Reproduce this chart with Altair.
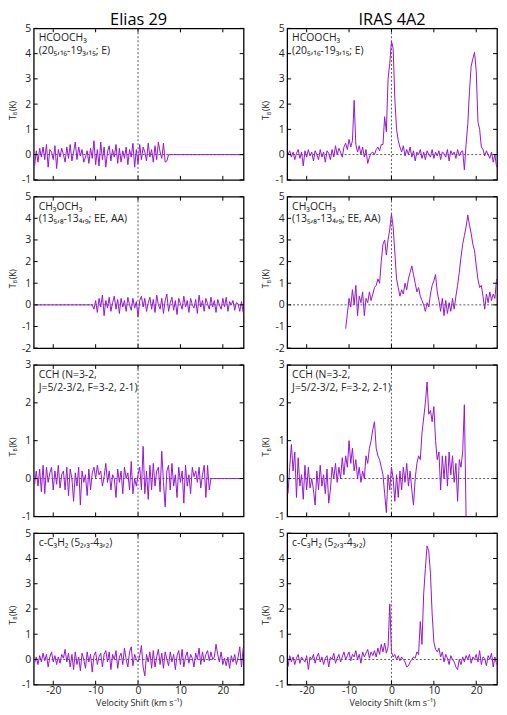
import altair as alt
import pandas as pd

# ---------------- data ----------------
V_START = -24.4   # km/s, first channel
V_STEP = 0.4      # km/s, channel width
N_CHAN = 124

X_TICKS = [-20, -10, 0, 10, 20]
ZERO = [0]

elias_hcooch3 = [
    -0.45, 0.15, -0.30, 0.25, -0.10, 0.30, -0.20, 0.40, -0.50, 0.20,
    0.10, -0.20, 0.35, -0.55, 0.20, -0.10, 0.25, 0.00, -0.30, 0.30,
    -0.15, 0.40, -0.25, 0.10, 0.50, -0.20, 0.30, -0.05, 0.20, -0.30,
    -0.10, 0.15, -0.35, 0.25, -0.15, 0.55, -0.40, 0.20, -0.45, 0.50,
    -0.20, 0.30, -0.50, 0.10, 0.35, -0.25, 0.20, -0.10, 0.40, -0.35,
    0.25, -0.30, 0.15, -0.15, 0.30, -0.40, 0.20, -0.10, 0.45, -0.50,
    0.20, -0.35, 0.40, -0.20, 0.30, 0.10, -0.25, 0.45, -0.10, 0.20,
    -0.30, 0.35, -0.20, 0.50, 0.10, -0.15, 0.45, -0.30, -0.25, 0.00,
    0.00, 0.00, 0.00, 0.00, 0.00, 0.00, 0.00, 0.00, 0.00, 0.00,
    0.00, 0.00, 0.00, 0.00, 0.00, 0.00, 0.00, 0.00, 0.00, 0.00,
    0.00, 0.00, 0.00, 0.00, 0.00, 0.00, 0.00, 0.00, 0.00, 0.00,
    0.00, 0.00, 0.00, 0.00, 0.00, 0.00, 0.00, 0.00, 0.00, 0.00,
    0.00, 0.00, 0.00, 0.00,
]

iras_hcooch3 = [
    0.00, 0.15, -0.10, 0.10, -0.20, 0.05, 0.20, -0.15, 0.10, -0.45,
    0.15, -0.10, 0.20, -0.05, 0.10, -0.25, 0.15, 0.00, -0.20, 0.20,
    -0.10, 0.10, -0.30, 0.15, 0.05, -0.20, 0.20, -0.10, 0.35, 0.00,
    0.25, 0.10, -0.10, 0.30, 0.45, 0.20, 0.60, 0.30, 0.55, 2.15,
    0.40, 0.10, 0.35, 0.00, 0.30, -0.10, 0.20, -0.35, -0.10, 0.05,
    0.10, 0.00, 0.20, 0.30, 0.15, 0.40, 0.40, 1.50, 0.90, 3.00,
    3.60, 4.50, 4.20, 2.20, 1.00, 0.55, 0.30, 0.10, 0.35, -0.05,
    0.20, 0.00, 0.30, -0.10, 0.15, -0.25, 0.10, 0.00, 0.20, -0.15,
    0.10, -0.20, 0.15, 0.00, -0.10, 0.20, -0.15, 0.10, -0.05, 0.15,
    -0.20, 0.10, 0.05, -0.10, 0.20, -0.25, 0.15, 0.00, 0.10, -0.15,
    0.20, -0.05, 0.10, 0.15, -0.60, 0.40, 1.20, 2.50, 3.50, 3.80,
    4.05, 3.30, 1.30, 1.00, 0.30, 0.20, -0.05, 0.15, 0.00, -0.15,
    0.10, -0.30, 0.00, -0.50,
]

elias_ch3och3 = [
    0.00, 0.00, 0.00, 0.00, 0.00, 0.00, 0.00, 0.00, 0.00, 0.00,
    0.00, 0.00, 0.00, 0.00, 0.00, 0.00, 0.00, 0.00, 0.00, 0.00,
    0.00, 0.00, 0.00, 0.00, 0.00, 0.00, 0.00, 0.00, 0.00, 0.00,
    0.00, 0.00, 0.00, 0.00, 0.00, -0.20, 0.20, -0.35, 0.30, -0.10,
    0.45, -0.50, 0.20, -0.15, 0.35, -0.30, 0.10, 0.40, -0.20, 0.25,
    -0.40, 0.30, -0.10, 0.20, -0.30, 0.35, 0.00, -0.25, 0.30, -0.15,
    0.15, -0.55, 0.20, 0.40, -0.10, 0.30, -0.30, 0.10, 0.35, -0.20,
    0.25, -0.35, 0.45, 0.00, -0.20, 0.30, -0.40, 0.20, 0.50, -0.30,
    0.10, 0.35, -0.25, 0.20, -0.45, 0.30, 0.05, -0.20, 0.40, -0.10,
    0.20, -0.35, 0.30, 0.00, -0.15, 0.25, -0.40, 0.45, -0.10, 0.20,
    -0.30, 0.30, 0.05, -0.20, 0.35, -0.10, 0.20, -0.35, 0.25, 0.00,
    -0.20, 0.30, -0.10, 0.35, -0.30, 0.15, 0.00, 0.20, -0.25, 0.10,
    0.05, -0.30, 0.15, -0.35,
]

iras_ch3och3 = [
    None, None, None, None, None, None, None, None, None, None,
    None, None, None, None, None, None, None, None, None, None,
    None, None, None, None, None, None, None, None, None, None,
    None, None, None, None, -1.10, -0.40, 0.30, -0.10, 0.70, 0.00,
    0.90, -0.50, 0.40, 0.10, 0.60, -0.50, 0.30, 0.10, 0.60, 0.20,
    0.50, 0.80, 0.90, 1.20, 1.00, 2.00, 2.80, 3.00, 2.30, 3.00,
    3.50, 4.20, 3.60, 2.40, 1.20, 0.80, 0.40, 0.70, 0.50, 1.00,
    0.70, 1.20, 1.50, 1.80, 1.40, 1.00, 0.60, 0.80, 0.40, 0.20,
    0.00, -0.30, 0.10, -0.10, 0.50, 0.90, 1.10, 1.40, 0.60, 0.20,
    -0.30, 0.30, -0.50, 0.20, -0.40, 0.10, -0.30, 0.30, -0.20, 0.40,
    0.90, 1.50, 2.20, 2.80, 3.20, 3.60, 4.15, 3.70, 3.30, 2.80,
    2.50, 1.80, 1.20, 0.80, 0.90, 0.40, -0.20, 0.50, 0.10, 0.60,
    0.20, 0.50, 0.30, 1.20,
]

elias_cch = [
    -0.15, 0.20, -0.20, 0.25, -0.35, 0.35, -0.40, 0.30, -0.10, 0.15,
    0.30, -0.30, 0.20, -0.15, 0.35, -0.25, 0.10, 0.20, -0.30, 0.30,
    -0.45, 0.25, 0.00, -0.60, 0.15, -0.20, 0.30, -0.70, 0.20, -0.10,
    0.10, -0.45, 0.25, -0.30, 0.15, 0.30, 0.00, 0.35, 0.10, 0.20,
    -0.20, 0.05, 0.40, -0.10, 0.20, -0.30, 0.10, 0.00, -0.50, 0.25,
    -0.10, 0.20, -0.40, 0.30, 0.00, 0.15, -0.30, 0.45, -0.40, 0.00,
    -0.20, 0.10, 0.30, -0.30, 0.85, -0.40, 0.20, -0.55, 0.35, -0.30,
    0.40, -0.20, 0.20, 0.30, -0.35, 0.72, -0.10, -0.75, 0.20, 0.35,
    -0.30, 0.40, -0.20, 0.10, -0.50, 0.30, -0.10, 0.20, -0.65, 0.35,
    -0.20, 0.10, -0.40, 0.30, 0.05, 0.20, -0.10, 0.30, -0.25, 0.10,
    0.35, -0.50, 0.35, -0.30, 0.00, 0.00, 0.00, 0.00, 0.00, 0.00,
    0.00, 0.00, 0.00, 0.00, 0.00, 0.00, 0.00, 0.00, 0.00, 0.00,
    0.00, 0.00, 0.00, 0.00,
]

iras_cch = [
    -0.40, 0.30, 0.90, 0.20, 0.70, -0.50, 0.55, -0.20, 0.10, -0.55,
    0.35, -0.30, 0.30, -0.25, 0.00, -0.30, -0.70, 0.20, -0.30, 0.35,
    -0.20, 0.10, -0.40, 0.25, -0.65, -0.30, 0.30, 0.00, 0.40, -0.10,
    0.30, 0.00, 0.55, 0.10, 0.60, 0.30, 1.00, 0.40, 0.80, 0.20,
    0.50, 0.00, 0.30, -0.10, 0.20, 0.00, 0.60, 0.40, 0.80, 1.00,
    1.30, 1.50, 0.80, 0.60, 0.50, 0.30, 0.10, -0.40, -0.90, 0.10,
    -0.30, 0.30, 0.00, -0.60, 0.10, -0.50, 0.20, -0.30, 0.30, -0.10,
    0.40, -0.20, 0.20, -0.30, -0.70, 0.00, 0.40, 0.60, 0.50, 1.20,
    1.60, 2.00, 2.55, 1.70, 1.80, 1.50, 1.90, 1.00, 0.50, 0.70,
    -0.30, 0.60, 0.00, 0.60, -0.20, 0.70, 0.10, 0.60, -0.10, 0.40,
    -0.60, 0.50, 0.30, 0.70, 1.95, -1.00, None, None, None, None,
    None, None, None, None, None, None, None, None, None, None,
    None, None, None, None,
]

elias_c3h2 = [
    -0.15, 0.10, -0.20, 0.15, -0.10, 0.25, -0.05, 0.20, -0.30, 0.10,
    0.30, -0.10, 0.15, -0.20, 0.10, -0.15, 0.20, 0.05, 0.40, -0.10,
    0.25, -0.30, 0.20, -0.40, 0.30, -0.20, 0.10, -0.45, 0.25, 0.00,
    -0.35, 0.30, -0.10, 0.20, -0.50, 0.15, 0.30, -0.20, 0.10, 0.25,
    -0.30, 0.20, 0.35, -0.10, 0.30, -0.40, 0.20, 0.00, 0.35, -0.35,
    0.10, 0.25, -0.20, 0.45, 0.00, -0.30, 0.30, 0.50, -0.25, 0.20,
    0.00, -0.10, 0.15, 0.55, -0.30, -0.65, 0.20, -0.10, 0.30, -0.35,
    0.35, -0.30, 0.10, 0.40, -0.20, 0.25, -0.35, 0.30, 0.00, -0.25,
    0.30, -0.10, 0.20, -0.40, 0.15, 0.35, -0.20, 0.40, -0.30, 0.10,
    0.30, -0.15, 0.20, 0.05, -0.30, 0.25, 0.00, 0.45, -0.20, 0.30,
    -0.10, 0.20, 0.35, -0.05, 0.30, 0.00, 0.10, 0.60, 0.20, -0.10,
    0.30, -0.20, 0.05, -0.25, 0.10, -0.35, 0.15, -0.10, 0.20, -0.20,
    0.10, 0.50, -0.30, 0.45,
]

iras_c3h2 = [
    -0.30, 0.15, -0.10, 0.10, -0.20, 0.05, 0.20, -0.15, 0.10, 0.00,
    -0.10, 0.15, -0.40, 0.10, 0.00, 0.20, -0.15, 0.10, 0.25, -0.10,
    0.10, -0.20, 0.05, 0.15, -0.30, 0.10, 0.00, 0.25, -0.15, 0.05,
    0.20, -0.10, 0.10, 0.30, 0.00, 0.15, 0.30, -0.05, 0.20, 0.10,
    0.35, 0.00, 0.20, -0.15, 0.30, 0.10, 0.25, 0.40, 0.05, 0.30,
    0.15, 0.35, 0.10, 0.45, 0.20, 0.60, 0.30, 0.65, 0.25, 0.50,
    2.20, 0.30, 0.10, 0.20, 0.00, 0.15, -0.05, 0.10, 0.00, -0.10,
    -0.30, -0.25, -0.10, 0.00, 0.10, 0.05, 0.30, 0.20, 1.50, 0.60,
    2.60, 3.60, 4.50, 4.30, 3.40, 1.80, 0.70, 0.40, 0.30, 0.45,
    0.10, 0.30, -0.10, 0.20, 0.05, -0.20, 0.15, 0.00, -0.10, -0.30,
    -0.40, 0.00, -0.20, 0.10, -0.10, 0.15, 0.00, 0.20, -0.15, 0.10,
    0.00, 0.20, -0.10, 0.35, -0.20, 0.10, 0.05, -0.25, 0.15, 0.00,
    0.25, -0.30, 0.10, -0.20,
]

rows_spec = [
    (elias_hcooch3, iras_hcooch3, [-1, 5], [-1, 0, 1, 2, 3, 4, 5],
     ["HCOOCH₃", "(20₅,₁₆-19₃,₁₅; E)"]),
    (elias_ch3och3, iras_ch3och3, [-2, 5], [-2, -1, 0, 1, 2, 3, 4, 5],
     ["CH₃OCH₃", "(13₅,₈-13₄,₉; EE, AA)"]),
    (elias_cch, iras_cch, [-1, 3], [-1, 0, 1, 2, 3],
     ["CCH (N=3-2,", "J=5/2-3/2, F=3-2, 2-1)"]),
    (elias_c3h2, iras_c3h2, [-1, 5], [-1, 0, 1, 2, 3, 4, 5],
     ["c-C₃H₂ (5₂,₃-4₃,₂)"]),
]
SOURCES = ["Elias 29", "IRAS 4A2"]

# ---------------- style ----------------
W, H = 212, 153
FONT = "Open Sans"
LINE_COLOR = "#9514d6"
X_DOMAIN = [-24.6, 24.9]
TICK_LEN = 4

one = pd.DataFrame({"a": [0]})


def make_panel(values, ydomain, yticks, label, bottom, title=None):
    assert len(values) == N_CHAN, len(values)
    recs = [{"v": round(V_START + V_STEP * i, 3), "t": t}
            for i, t in enumerate(values) if t is not None]
    df = pd.DataFrame(recs)
    xs = alt.Scale(domain=X_DOMAIN, nice=False, zero=False)
    ys = alt.Scale(domain=ydomain, nice=False, zero=False)
    if bottom:
        xaxis = alt.Axis(values=X_TICKS, ticks=False, domain=False, grid=False,
                         labelFontSize=10.5, labelFont=FONT, labelColor="#222",
                         labelPadding=1, labelExpr="datum.value + ''",
                         title="Velocity Shift (km s⁻¹)", titleFont=FONT,
                         titleFontSize=9, titleFontWeight="normal",
                         titleColor="#222", titlePadding=3)
    else:
        xaxis = None
    yaxis = alt.Axis(values=yticks, ticks=False, domain=False, grid=False,
                     labelFontSize=10.5, labelFont=FONT, labelColor="#222",
                     labelPadding=3, labelExpr="datum.value + ''", title=None)

    line = alt.Chart(df).mark_line(color=LINE_COLOR, strokeWidth=1, clip=True).encode(
        x=alt.X("v:Q", scale=xs, axis=xaxis),
        y=alt.Y("t:Q", scale=ys, axis=yaxis),
    )
    zdf = pd.DataFrame({"z": ZERO})
    vrule = alt.Chart(zdf).mark_rule(color="#444", strokeDash=[2, 2], strokeWidth=0.9).encode(
        x=alt.X("z:Q", scale=xs, axis=xaxis))
    hrule = alt.Chart(zdf).mark_rule(color="#444", strokeDash=[2, 2], strokeWidth=0.9).encode(
        y=alt.Y("z:Q", scale=ys, axis=yaxis))

    ydf = pd.DataFrame({"yt": yticks})
    xdf = pd.DataFrame({"xt": X_TICKS})
    tick_l = alt.Chart(ydf).mark_rule(color="black", strokeWidth=1).encode(
        y=alt.Y("yt:Q", scale=ys, axis=yaxis), x=alt.value(0), x2=alt.value(TICK_LEN))
    tick_r = alt.Chart(ydf).mark_rule(color="black", strokeWidth=1).encode(
        y=alt.Y("yt:Q", scale=ys, axis=yaxis), x=alt.value(W - TICK_LEN), x2=alt.value(W))
    tick_b = alt.Chart(xdf).mark_rule(color="black", strokeWidth=1).encode(
        x=alt.X("xt:Q", scale=xs, axis=xaxis), y=alt.value(H - TICK_LEN), y2=alt.value(H))
    tick_t = alt.Chart(xdf).mark_rule(color="black", strokeWidth=1).encode(
        x=alt.X("xt:Q", scale=xs, axis=xaxis), y=alt.value(0), y2=alt.value(TICK_LEN))

    lab = alt.Chart(one).mark_text(text=label, align="left", baseline="top", font=FONT,
                                   fontSize=10.5, color="#222", lineHeight=13).encode(
        x=alt.value(5), y=alt.value(5))

    # y-axis title T_B (K), rotated
    yt_main = alt.Chart(one).mark_text(text="T", angle=270, align="left", baseline="middle",
                                       font=FONT, fontSize=8.5, color="#222").encode(
        x=alt.value(-21), y=alt.value(H / 2 + 16))
    yt_sub = alt.Chart(one).mark_text(text="B", angle=270, align="left", baseline="middle",
                                      font=FONT, fontSize=5, color="#222").encode(
        x=alt.value(-18.5), y=alt.value(H / 2 + 11))
    yt_k = alt.Chart(one).mark_text(text="(K)", angle=270, align="left", baseline="middle",
                                    font=FONT, fontSize=8.5, color="#222").encode(
        x=alt.value(-21), y=alt.value(H / 2 + 7))

    layers = [vrule, hrule, line, tick_l, tick_r, tick_b, tick_t, lab, yt_main, yt_sub, yt_k]
    if title:
        ttl = alt.Chart(one).mark_text(text=title, align="center", baseline="alphabetic",
                                       font=FONT, fontSize=16.5, color="black").encode(
            x=alt.value(W / 2), y=alt.value(-3))
        layers.append(ttl)
    return alt.layer(*layers).properties(width=W, height=H)


panels = []
for r, (left_vals, right_vals, ydom, yt, label) in enumerate(rows_spec):
    bottom = r == len(rows_spec) - 1
    panels.append(make_panel(left_vals, ydom, yt, label, bottom, SOURCES[0] if r == 0 else None))
    panels.append(make_panel(right_vals, ydom, yt, label, bottom, SOURCES[1] if r == 0 else None))

chart = alt.concat(*panels, columns=2, spacing={"row": 17, "column": 44},
                   bounds="flush").properties(
    padding=0, background="white"
).configure_view(stroke="black", strokeWidth=1.3)

chart.save("out.html", embed_options={"renderer": "svg", "actions": False})
